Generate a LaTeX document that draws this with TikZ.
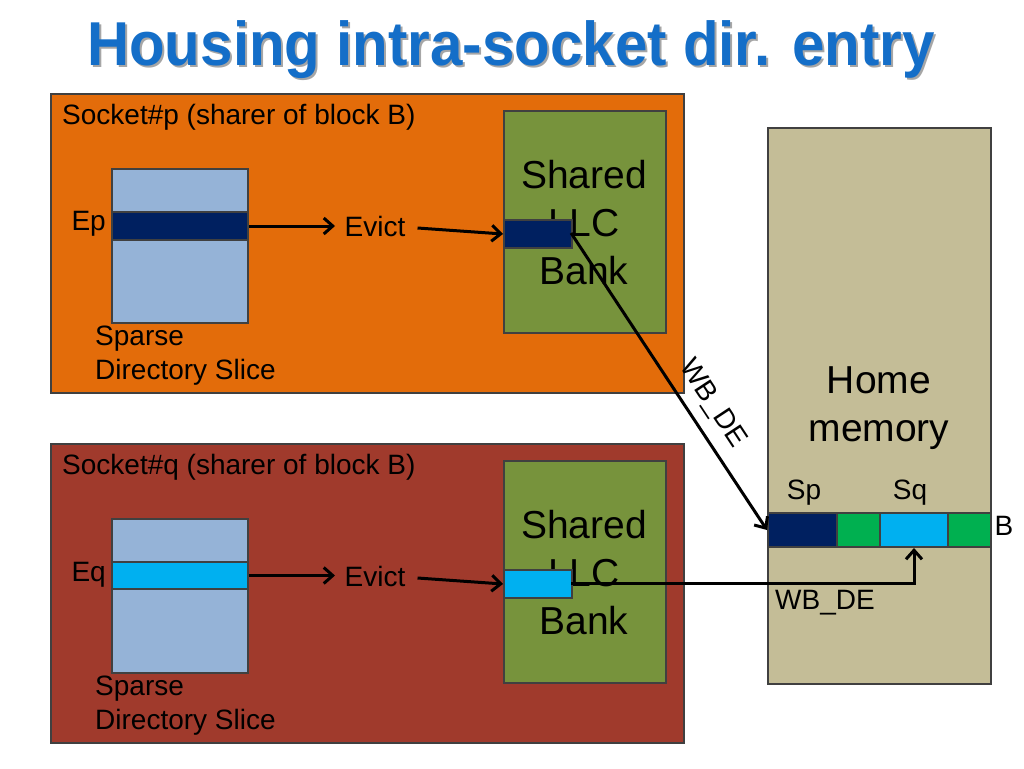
\documentclass[tikz,border=0pt]{standalone}
\usepackage{fontspec}
\setmainfont{Liberation Sans}
\usetikzlibrary{arrows.meta, positioning, calc}
\definecolor{socketp}{RGB}{227,108,10}
\definecolor{socketq}{RGB}{160,58,44}
\definecolor{homemem}{RGB}{196,189,151}
\definecolor{slice}{RGB}{149,179,215}
\definecolor{llc}{RGB}{119,147,60}
\definecolor{navyblk}{RGB}{0,32,96}
\definecolor{cyanblk}{RGB}{0,176,240}
\definecolor{greenblk}{RGB}{0,176,80}
\definecolor{titleblue}{RGB}{20,110,200}
\tikzstyle{box}=[draw=black!75, line width=2pt, inner sep=0pt, anchor=north west]
\tikzstyle{link}=[line width=3pt, ->, >={Straight Barb[length=9pt,width=16pt]}]
\tikzstyle{lbl}=[font=\fontsize{28}{34}\selectfont, inner sep=0pt]
\tikzstyle{big}=[font=\fontsize{39}{48}\selectfont, align=center, inner sep=0pt]
\tikzstyle{ttl}=[font=\bfseries\fontsize{62}{66}\selectfont, xscale=0.94, inner sep=0pt]

\begin{document}
\begin{tikzpicture}[x=1pt, y=-1pt]
  \useasboundingbox (0,0) rectangle (1024,768);
  % title
  \node[ttl, text=black!35] at (513,52) {Housing intra-socket dir. entry};
  \node[ttl, text=titleblue] (title) at (511,50) {Housing intra-socket dir. entry};
  % sockets and memory
  \node[box, fill=socketp, minimum width=633pt, minimum height=299pt] (sockp) at (50,93) {};
  \node[box, fill=socketq, minimum width=633pt, minimum height=299pt] (sockq) at (50,443) {};
  \node[box, fill=homemem, minimum width=223pt, minimum height=556pt] (home) at (767,127) {};
  \node[lbl, anchor=west] (sockplbl) at (62,117) {Socket\#p (sharer of block B)};
  \node[lbl, anchor=west] (sockqlbl) at (62,467) {Socket\#q (sharer of block B)};
  \node[big] (homelbl) at (879,408) {Home\\memory};
  % directory slices
  \node[box, fill=slice, minimum width=136pt, minimum height=154pt] (slicep) at (111,168) {};
  \node[box, fill=navyblk, minimum width=136pt, minimum height=28pt] (ep) at (111,211) {};
  \node[box, fill=slice, minimum width=136pt, minimum height=154pt] (sliceq) at (111,518) {};
  \node[box, fill=cyanblk, minimum width=136pt, minimum height=27pt] (eq) at (111,561) {};
  \node[lbl, anchor=east] (eplbl) at (106,224) {Ep};
  \node[lbl, anchor=east] (eqlbl) at (106,575) {Eq};
  \node[lbl, anchor=north west, align=left] (spp) at (95,326) {Sparse\\Directory Slice};
  \node[lbl, anchor=north west, align=left] (spq) at (95,676) {Sparse\\Directory Slice};
  % shared LLC banks
  \node[box, fill=llc, minimum width=162pt, minimum height=222pt] (llcp) at (503,110) {};
  \node[box, fill=llc, minimum width=162pt, minimum height=222pt] (llcq) at (503,460) {};
  \node[big] (llcplbl) at (584,223) {Shared\\LLC\\Bank};
  \node[big] (llcqlbl) at (584,573) {Shared\\LLC\\Bank};
  \node[box, fill=navyblk, minimum width=68pt, minimum height=28pt] (blkp) at (503,219) {};
  \node[box, fill=cyanblk, minimum width=68pt, minimum height=28pt] (blkq) at (503,569) {};
  % memory row
  \node[box, fill=navyblk, minimum width=69pt, minimum height=34pt] (sp) at (767,512) {};
  \node[box, fill=greenblk, minimum width=43pt, minimum height=34pt] (g1) at (836,512) {};
  \node[box, fill=cyanblk, minimum width=68pt, minimum height=34pt] (sq) at (879,512) {};
  \node[box, fill=greenblk, minimum width=43pt, minimum height=34pt] (g2) at (947,512) {};
  \node[lbl] (splbl) at (804,493) {Sp};
  \node[lbl] (sqlbl) at (910,493) {Sq};
  \node[lbl] (blbl) at (1004,526) {B};
  \node[lbl] (wbq) at (825,603) {WB\_DE};
  % evictions
  \node[lbl] (evp) at (375,226) {Evict};
  \node[lbl] (evq) at (375,576) {Evict};
  \draw[link] (ep.east) -- ($(ep.east)+(86,0)$);
  \draw[link] (eq.east) -- ($(eq.east)+(86,0)$);
  \draw[link] (evp.east) ++(12,2) -- (blkp.west);
  \draw[link] (evq.east) ++(12,2) -- (blkq.west);
  \coordinate (wbp) at (571,233);
  \draw[link] (wbp) -- (sp.west) node[lbl, pos=0.62, sloped, above=10pt] (wbplbl) {WB\_DE};
  \coordinate (wbs) at (571,583);
  \draw[link] (wbs) -| (sq.south);
\end{tikzpicture}
\end{document}
